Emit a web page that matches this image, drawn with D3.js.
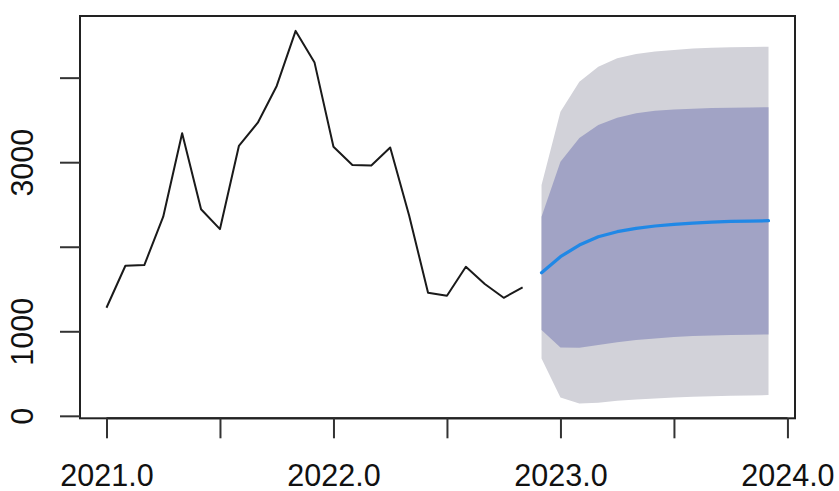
<!DOCTYPE html>
<html>
<head>
<meta charset="utf-8">
<script src="https://cdn.jsdelivr.net/npm/d3@7"></script>
<style>
  html, body { margin: 0; padding: 0; background: #fff; }
  svg { display: block; }
  text { font-family: "Liberation Sans", Arial, Helvetica, sans-serif; fill: #111; }
</style>
</head>
<body>
<svg id="chart" width="839" height="491"></svg>
<script>
// Monthly series starting January 2021
const startYear = 2021.0;
const observed = [1278, 1775, 1783, 2355, 3342, 2443, 2209, 3192, 3467, 3902, 4553, 4178,
                  3183, 2967, 2961, 3174, 2370, 1456, 1420, 1763, 1559, 1396, 1520];

// Twelve-plus-one month forecast with 80% and 95% prediction intervals
const forecastMean = [1692, 1882, 2020, 2118, 2178, 2218, 2245, 2265, 2280, 2292, 2301, 2304, 2308];
const lower80 = [1014, 808, 805, 837, 869, 896, 916, 931, 943, 951, 955, 959, 963];
const upper80 = [2355, 3006, 3286, 3440, 3527, 3579, 3609, 3624, 3633, 3641, 3645, 3647, 3650];
const lower95 = [679, 218, 147, 154, 178, 194, 206, 218, 225, 233, 237, 241, 245];
const upper95 = [2730, 3598, 3953, 4130, 4230, 4280, 4308, 4328, 4346, 4355, 4361, 4363, 4367];

// Axis ticks and labels (unlabelled ticks are crowded out, as in base graphics)
const xTicks = [2021.0, 2021.5, 2022.0, 2022.5, 2023.0, 2023.5, 2024.0];
const xTickLabels = ["2021.0", "", "2022.0", "", "2023.0", "", "2024.0"];
const yTicks = [0, 1000, 2000, 3000, 4000];
const yTickLabels = ["0", "1000", "", "3000", ""];

const obsData = observed.map((v, i) => ({ t: startYear + i / 12, v }));
const fcStart = startYear + observed.length / 12;
const fcData = forecastMean.map((v, i) => ({
  t: fcStart + i / 12, v,
  lo80: lower80[i], hi80: upper80[i], lo95: lower95[i], hi95: upper95[i]
}));

// Plot region
const plotLeft = 80, plotRight = 795, plotTop = 16, plotBottom = 418.3;

// Ranges padded by 4% on each side
function padded(lo, hi) { const d = (hi - lo) * 0.04; return [lo - d, hi + d]; }
const tMin = obsData[0].t, tMax = fcData[fcData.length - 1].t;
const vMin = d3.min([d3.min(observed), d3.min(lower95)]);
const vMax = d3.max([d3.max(observed), d3.max(upper95)]);

const x = d3.scaleLinear().domain(padded(tMin, tMax)).range([plotLeft, plotRight]);
const y = d3.scaleLinear().domain(padded(vMin, vMax)).range([plotBottom, plotTop]);

const svg = d3.select("#chart");

// Prediction interval bands
const band = (lo, hi) => d3.area().x(d => x(d.t)).y0(d => y(d[lo])).y1(d => y(d[hi]));
svg.append("path").datum(fcData).attr("d", band("lo95", "hi95")).attr("fill", "#d2d2d9");
svg.append("path").datum(fcData).attr("d", band("lo80", "hi80")).attr("fill", "#a1a3c5");

// Observed series
const line = d3.line().x(d => x(d.t)).y(d => y(d.v));
svg.append("path").datum(obsData).attr("d", line)
  .attr("fill", "none").attr("stroke", "#1a1a1a").attr("stroke-width", 2)
  .attr("stroke-linejoin", "round");

// Point forecast
svg.append("path").datum(fcData).attr("d", line)
  .attr("fill", "none").attr("stroke", "#2088e6").attr("stroke-width", 3.2)
  .attr("stroke-linejoin", "round").attr("stroke-linecap", "round");

// Frame
svg.append("rect").attr("x", plotLeft).attr("y", plotTop)
  .attr("width", plotRight - plotLeft).attr("height", plotBottom - plotTop)
  .attr("fill", "none").attr("stroke", "#222").attr("stroke-width", 2);

// X axis
const xAxis = d3.axisBottom(x).tickValues(xTicks).tickSize(20).tickPadding(0)
  .tickFormat((d, i) => xTickLabels[i]);
const gx = svg.append("g").attr("transform", `translate(0,${plotBottom})`).call(xAxis);
gx.select(".domain").attr("stroke", "#222").attr("stroke-width", 2)
  .attr("d", `M${x(xTicks[0])},0H${x(xTicks[xTicks.length - 1])}`);
gx.selectAll(".tick line").attr("stroke", "#333").attr("stroke-width", 2);
gx.selectAll(".tick text").attr("y", 68).attr("dy", 0)
  .style("font-size", "30.5px").attr("fill", "#111");

// Y axis
const yAxis = d3.axisLeft(y).tickValues(yTicks).tickSize(20).tickPadding(0)
  .tickFormat((d, i) => yTickLabels[i]);
const gy = svg.append("g").attr("transform", `translate(${plotLeft},0)`).call(yAxis);
gy.select(".domain").attr("stroke", "#222").attr("stroke-width", 2)
  .attr("d", `M0,${y(yTicks[0])}V${y(yTicks[yTicks.length - 1])}`);
gy.selectAll(".tick line").attr("stroke", "#333").attr("stroke-width", 2);
gy.selectAll(".tick text")
  .attr("x", null).attr("dy", 0)
  .attr("text-anchor", "middle")
  .attr("transform", "translate(-46.7,0) rotate(-90)")
  .style("font-size", "30.5px").attr("fill", "#111");
</script>
</body>
</html>
